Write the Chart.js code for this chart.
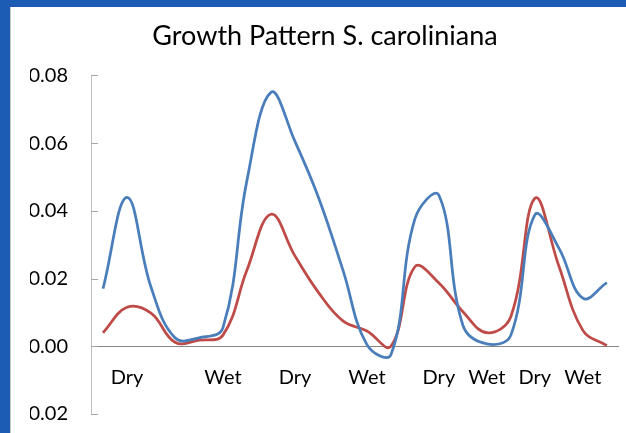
<!DOCTYPE html>
<html>
<head>
<meta charset="utf-8">
<script src="https://cdn.jsdelivr.net/npm/chart.js@4/dist/chart.umd.min.js"></script>
<style>
    html, body { margin: 0; padding: 0; }
    body { width: 626px; height: 433px; background: #1d5cb4; position: relative; overflow: hidden; }
    #frame { position: absolute; left: 10px; top: 7px; width: 616px; height: 426px; background: #fff; box-shadow: inset 1px 0 0 #c8c8c8; }
</style>
</head>
<body>
<div id="frame"><canvas id="growthChart" width="616" height="426"></canvas></div>
<script>
// 22 sampling points, season labelled only where the original axis shows one
const seasons = ['', 'Dry', '', '', '', 'Wet', '', '', 'Dry', '', '', 'Wet',
                 '', '', 'Dry', '', 'Wet', '', 'Dry', '', 'Wet', ''];

const blueSeries = [0.0170, 0.0440, 0.0175, 0.0025, 0.0025, 0.0055, 0.0490, 0.0750,
                    0.0605, 0.0436, 0.0225, 0.0005, -0.0025, 0.0376, 0.0446, 0.0062,
                    0.0007, 0.0033, 0.0388, 0.0290, 0.0142, 0.0188];

const redSeries  = [0.0040, 0.0115, 0.0098, 0.0012, 0.0018, 0.0033, 0.0225, 0.0390,
                    0.0267, 0.0157, 0.0075, 0.0045, 0.0000, 0.0235, 0.0187, 0.0102,
                    0.0040, 0.0088, 0.0437, 0.0237, 0.0047, 0.0002];

const yTicks  = [-0.02, 0.00, 0.02, 0.04, 0.06, 0.08];
const yLabels = ['\u22120.02', '0.00', '0.02', '0.04', '0.06', '0.08'];

const FONT = 'Lato, "Open Sans", sans-serif';

// Excel style tick marks pointing into the plot area
const innerTicks = {
    id: 'innerTicks',
    afterDraw(chart) {
        const y = chart.scales.y;
        const ctx = chart.ctx;
        ctx.save();
        ctx.strokeStyle = '#a6a6a6';
        ctx.lineWidth = 1;
        yTicks.forEach(v => {
            const py = Math.round(y.getPixelForValue(v)) + 0.5;
            ctx.beginPath();
            ctx.moveTo(y.right, py);
            ctx.lineTo(y.right + 7, py);
            ctx.stroke();
        });
        ctx.restore();
    }
};

new Chart(document.getElementById('growthChart'), {
    type: 'line',
    data: {
        labels: seasons,
        datasets: [
            { label: 'Series 1', data: blueSeries, borderColor: '#4a7ebb', borderWidth: 2.75, pointRadius: 0, tension: 0.4, fill: false },
            { label: 'Series 2', data: redSeries,  borderColor: '#be4b48', borderWidth: 2.75, pointRadius: 0, tension: 0.4, fill: false },
        ],
    },
    options: {
        responsive: false,
        animation: false,
        clip: false,
        layout: { padding: { left: 20, right: 6, top: 0, bottom: 19 } },
        plugins: {
            legend: { display: false },
            tooltip: { enabled: false },
            title: {
                display: true,
                text: 'Growth Pattern S. caroliniana',
                color: '#000',
                font: { family: FONT, size: 27, weight: 'normal' },
                padding: { top: 13, bottom: 23 },
            },
        },
        scales: {
            x: {
                type: 'category',
                offset: true,
                position: { y: 0 },
                grid: { display: true, drawOnChartArea: false, drawTicks: false },
                border: { display: true, color: '#868686', width: 1 },
                ticks: {
                    autoSkip: false,
                    maxRotation: 0,
                    padding: 19,
                    color: '#000',
                    font: { family: FONT, size: 20 },
                },
            },
            y: {
                min: -0.02,
                max: 0.08,
                // fixed width, and the label padding should not push the plot up from the bottom
                afterFit(scale) { scale.width = 61; scale.paddingTop = 12; scale.paddingBottom = 12; },
                afterBuildTicks(scale) { scale.ticks = yTicks.map(v => ({ value: v })); },
                grid: { display: true, drawOnChartArea: false, drawTicks: false },
                border: { display: true, color: '#bfbfbf', width: 1 },
                ticks: {
                    padding: 23,
                    color: '#000',
                    font: { family: FONT, size: 20 },
                    callback: (v, i) => yLabels[i],
                },
            },
        },
    },
    plugins: [innerTicks],
});
</script>
</body>
</html>
